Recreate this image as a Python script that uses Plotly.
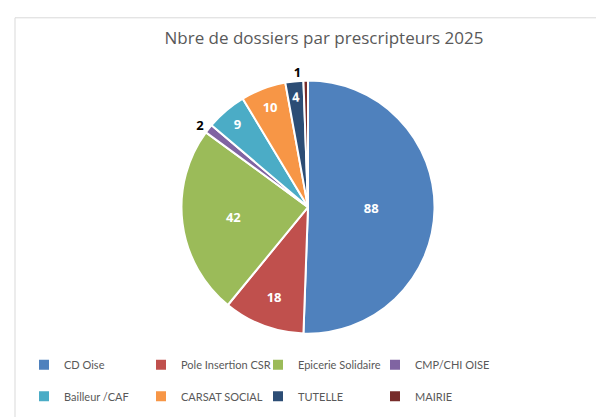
import plotly.graph_objects as go

labels = ["CD Oise", "Pole Insertion CSR", "Epicerie Solidaire", "CMP/CHI OISE",
          "Bailleur /CAF", "CARSAT SOCIAL", "TUTELLE", "MAIRIE"]
values = [88, 18, 42, 2, 9, 10, 4, 1]
colors = ["#4F81BD", "#C0504D", "#9BBB59", "#8064A2",
          "#4BACC6", "#F79646", "#2C4D75", "#772C2A"]

W, H = 604, 417
R = 30          # right margin, narrows the plot area so the legend wraps after 4 items
PW = W - R      # plot area width in px

# small slices get their label outside, like the original
positions = ["outside" if v <= 2 else "inside" for v in values]
# extra blank line gives the legend rows more air
legend_names = [l + "<br> " for l in labels]

fig = go.Figure(go.Pie(
    labels=legend_names, values=values,
    sort=False, direction="clockwise", rotation=0,
    marker=dict(colors=colors, line=dict(color="white", width=2)),
    textposition=positions,
    insidetextfont=dict(color="white", size=13, family="Open Sans"),
    outsidetextfont=dict(color="black", size=13, family="Open Sans"),
    texttemplate="<b>%{value}</b>",
    hovertemplate="%{value}<extra></extra>",
    domain=dict(x=[171 / PW, 429 / PW], y=[1 - 332 / H, 1 - 74 / H]),
))

fig.update_layout(
    width=W, height=H,
    margin=dict(l=0, r=R, t=0, b=0),
    paper_bgcolor="white",
    title=dict(text="Nbre de dossiers par prescripteurs 2025",
               x=316 / W, xanchor="center", y=1 - 30 / H, yanchor="middle",
               font=dict(family="Open Sans", size=17, color="#595959")),
    legend=dict(orientation="h", x=16 / PW, xanchor="left", y=1 - 350 / H, yanchor="top",
                entrywidth=72, entrywidthmode="pixels", valign="top",
                font=dict(family="Lato", size=11, color="#595959"),
                traceorder="normal"),
    shapes=[dict(type="rect", xref="paper", yref="paper",
                 x0=7 / PW, x1=602 / PW, y0=-0.05, y1=1 - 10 / H,
                 line=dict(color="#D9D9D9", width=1))],
)

fig.write_html("out.html")
